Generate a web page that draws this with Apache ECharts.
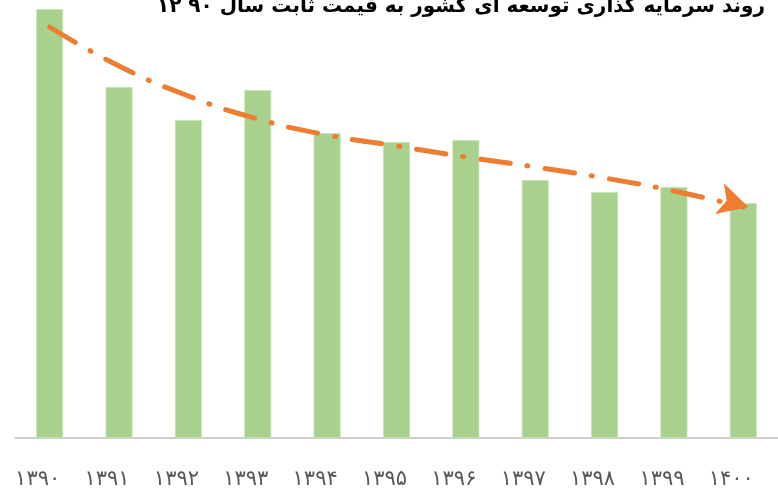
<!DOCTYPE html>
<html>
<head>
<meta charset="utf-8">
<script src="https://cdn.jsdelivr.net/npm/echarts@6/dist/echarts.min.js"></script>
<style>
	html, body { margin: 0; padding: 0; background: #fff; }
	#chart { width: 778px; height: 490px; }
</style>
</head>
<body>
<div id="chart"></div>
<script>
// سال ها و مقادیر
const years = ["۱۳۹۰", "۱۳۹۱", "۱۳۹۲", "۱۳۹۳", "۱۳۹۴", "۱۳۹۵", "۱۳۹۶", "۱۳۹۷", "۱۳۹۸", "۱۳۹۹", "۱۴۰۰"];
const investment = [429, 351, 318, 348, 305, 296, 298, 258, 246, 251, 235];
const trend = [411, 372, 342, 319, 303, 292, 281, 271, 260, 247, 231];
const titleText = "روند سرمایه گذاری توسعه ای کشور به قیمت ثابت سال ۹۰ ۱۲";

const myChart = echarts.init(document.getElementById("chart"));

const trendData = trend.map((v, i) => {
	if (i === trend.length - 1) {
		return {
			value: v,
			symbol: "arrow",
			symbolSize: [24, 30],
			symbolRotate: -106,
			symbolOffset: [5, 0],
			itemStyle: { color: "#ED7D31" }
		};
	}
	return { value: v, symbol: "none" };
});

const option = {
	animation: false,
	grid: {
		left: 15,
		top: 8,
		width: 769,
		height: 430
	},
	graphic: [
		{
			type: "text",
			style: {
				x: 765,
				y: 7,
				text: titleText,
				font: "bold 20px 'DejaVu Sans'",
				fill: "#000",
				textAlign: "right",
				textVerticalAlign: "middle"
			}
		}
	],
	xAxis: {
		type: "category",
		data: years,
		axisTick: { show: false },
		axisLine: { lineStyle: { color: "#BFBFBF", width: 1.5 } },
		axisLabel: {
			color: "#595959",
			fontFamily: "DejaVu Sans",
			fontSize: 21,
			margin: 31,
			interval: 0,
			padding: [0, 24, 0, 0]
		}
	},
	yAxis: {
		type: "value",
		min: 0,
		max: 430,
		show: false,
		splitLine: { show: false }
	},
	series: [
		{
			type: "bar",
			data: investment,
			barWidth: 27,
			itemStyle: { color: "#A9D18E", borderColor: "#C9E3B8", borderWidth: 0.8 }
		},
		{
			type: "line",
			data: trendData,
			smooth: true,
			showSymbol: true,
			lineStyle: {
				color: "#ED7D31",
				width: 5,
				type: [30, 17, 1, 17],
				cap: "round"
			},
			z: 5
		}
	]
};

myChart.setOption(option);
</script>
</body>
</html>
